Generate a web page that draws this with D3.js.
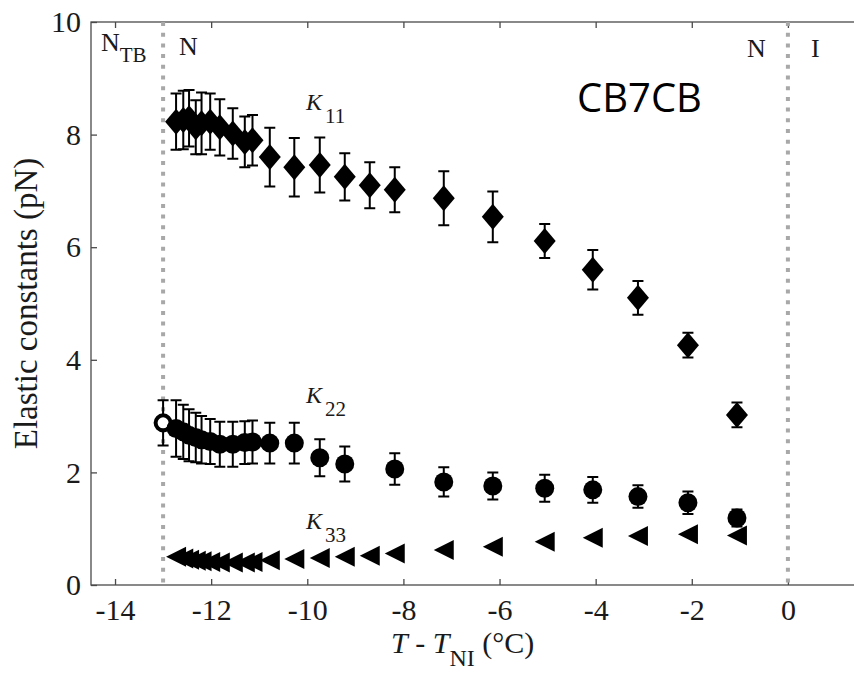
<!DOCTYPE html>
<html>
<head>
<meta charset="utf-8">
<script src="https://cdn.jsdelivr.net/npm/d3@7"></script>
<style>
  body { margin: 0; background: #fff; }
  svg { display: block; }
  text { font-family: "Liberation Serif", "DejaVu Serif", serif; fill: #1a1a1a; }
</style>
</head>
<body>
<div id="container"></div>
<script>
/* DATA */
const tTicks = [-14, -12, -10, -8, -6, -4, -2, 0];
const kTicks = [0, 2, 4, 6, 8, 10];
const phaseLines = [-13, 0];

const k11T = [-12.73, -12.58, -12.46, -12.32, -12.2, -12.02, -11.82, -11.55, -11.3, -11.14,
  -10.78, -10.27, -9.74, -9.22, -8.7, -8.18, -7.16, -6.14, -5.06, -4.06, -3.12, -2.08, -1.06];
const k11 = [8.23, 8.26, 8.29, 8.13, 8.2, 8.23, 8.13, 8.02, 7.87, 7.9,
  7.6, 7.42, 7.46, 7.25, 7.1, 7.02, 6.87, 6.54, 6.11, 5.6, 5.1, 4.26, 3.02];
const k11Err = [0.5, 0.52, 0.5, 0.48, 0.55, 0.5, 0.5, 0.45, 0.45, 0.45,
  0.52, 0.52, 0.49, 0.42, 0.41, 0.4, 0.48, 0.45, 0.3, 0.35, 0.3, 0.22, 0.22];

const k22T = [-13.0, -12.73, -12.58, -12.46, -12.32, -12.2, -12.02, -11.82, -11.55, -11.3, -11.14,
  -10.78, -10.27, -9.74, -9.22, -8.18, -7.16, -6.14, -5.06, -4.06, -3.12, -2.08, -1.06];
const k22 = [2.88, 2.78, 2.72, 2.66, 2.62, 2.58, 2.55, 2.5, 2.5, 2.53, 2.54,
  2.52, 2.52, 2.26, 2.15, 2.06, 1.83, 1.76, 1.72, 1.69, 1.57, 1.46, 1.19];
const k22Err = [0.4, 0.5, 0.48, 0.46, 0.44, 0.42, 0.4, 0.4, 0.4, 0.38, 0.38,
  0.36, 0.36, 0.33, 0.31, 0.28, 0.26, 0.24, 0.24, 0.23, 0.2, 0.2, 0.15];

const k33T = k11T;
const k33 = [0.5, 0.47, 0.45, 0.43, 0.42, 0.41, 0.4, 0.4, 0.4, 0.41,
  0.44, 0.46, 0.48, 0.5, 0.52, 0.56, 0.62, 0.68, 0.77, 0.84, 0.87, 0.9, 0.88];

/* CONSTANTS */
const width = 854;
const height = 682;
const margin = {top: 22, left: 91, bottom: 97, right: -6};

const svg = d3.select("#container")
  .append("svg")
  .attr("width", width)
  .attr("height", height);

/* SCALES */
const xScale = d3.scaleLinear()
  .domain([-14.5, 1.5])
  .range([margin.left, width - margin.right]);

const yScale = d3.scaleLinear()
  .domain([0, 10])
  .range([height - margin.bottom, margin.top]);

const axisColor = "#4a4a4a";

// box
svg.append("rect")
  .attr("x", xScale(-14.5))
  .attr("y", yScale(10))
  .attr("width", xScale(1.5) - xScale(-14.5))
  .attr("height", yScale(0) - yScale(10))
  .attr("fill", "none")
  .attr("stroke", axisColor)
  .attr("stroke-width", 1.3);

// axes (ticks point inward)
const xAxis = svg.append("g")
  .attr("transform", `translate(0,${yScale(0)})`)
  .call(d3.axisBottom(xScale).tickValues(tTicks).tickSize(-6).tickSizeOuter(0)
    .tickPadding(14).tickFormat(d => String(d)));

const xAxisTop = svg.append("g")
  .attr("transform", `translate(0,${yScale(10)})`)
  .call(d3.axisTop(xScale).tickValues(tTicks).tickSize(-6).tickSizeOuter(0).tickFormat(""));

const yAxis = svg.append("g")
  .attr("transform", `translate(${xScale(-14.5)},0)`)
  .call(d3.axisLeft(yScale).tickValues(kTicks).tickSize(-6).tickSizeOuter(0)
    .tickPadding(10).tickFormat(d => String(d)));

[xAxis, xAxisTop, yAxis].forEach(g => {
  g.attr("font-family", null).attr("font-size", null);
  g.select(".domain").remove();
  g.selectAll(".tick line").attr("stroke", axisColor).attr("stroke-width", 1.3);
  g.selectAll(".tick text")
    .attr("fill", "#1a1a1a")
    .style("font-family", "'Liberation Serif', serif")
    .style("font-size", "30px");
});

// phase boundaries
svg.selectAll("line.phase")
  .data(phaseLines)
  .join("line")
  .attr("class", "phase")
  .attr("x1", d => xScale(d))
  .attr("x2", d => xScale(d))
  .attr("y1", yScale(10))
  .attr("y2", yScale(0))
  .attr("stroke", "#a8a8a8")
  .attr("stroke-width", 4)
  .attr("stroke-dasharray", "4,6.7");

/* ERROR BARS */
function drawErrors(ts, vals, errs, cls) {
  const data = ts.map((t, i) => ({t: t, v: vals[i], e: errs[i]}));
  const g = svg.append("g").attr("class", cls);
  const cap = 5.5;
  g.selectAll("path")
    .data(data)
    .join("path")
    .attr("d", d => {
      const x = xScale(d.t), y1 = yScale(d.v + d.e), y2 = yScale(d.v - d.e);
      return `M${x},${y1}V${y2}M${x - cap},${y1}H${x + cap}M${x - cap},${y2}H${x + cap}`;
    })
    .attr("stroke", "#000")
    .attr("stroke-width", 2)
    .attr("fill", "none");
}

drawErrors(k11T, k11, k11Err, "err11");
drawErrors(k22T, k22, k22Err, "err22");

// diamonds
svg.selectAll("path.k11")
  .data(k11T.map((t, i) => ({t: t, v: k11[i]})))
  .join("path")
  .attr("class", "k11")
  .attr("transform", d => `translate(${xScale(d.t)},${yScale(d.v)})`)
  .attr("d", "M0,-13L11,0L0,13L-11,0Z")
  .attr("fill", "#000");

// circles (first one at -13 drawn open)
svg.selectAll("circle.k22")
  .data(k22T.map((t, i) => ({t: t, v: k22[i], i: i})))
  .join("circle")
  .attr("class", "k22")
  .attr("cx", d => xScale(d.t))
  .attr("cy", d => yScale(d.v))
  .attr("r", d => d.i === 0 ? 7.5 : 9.5)
  .attr("fill", d => d.i === 0 ? "#fff" : "#000")
  .attr("stroke", "#000")
  .attr("stroke-width", d => d.i === 0 ? 4 : 0);

// left triangles
svg.selectAll("path.k33")
  .data(k33T.map((t, i) => ({t: t, v: k33[i]})))
  .join("path")
  .attr("class", "k33")
  .attr("transform", d => `translate(${xScale(d.t)},${yScale(d.v)})`)
  .attr("d", "M-10,0L10,-10L10,10Z")
  .attr("fill", "#000");

/* LABELS */
function kLabel(x, y, sub) {
  const t = svg.append("text").attr("x", x).attr("y", y).style("font-size", "24px");
  t.append("tspan").style("font-style", "italic").text("K");
  t.append("tspan").attr("dy", 13).attr("dx", 3).style("font-size", "21px").text(sub);
}
kLabel(306, 110, "11");
kLabel(306, 403, "22");
kLabel(306, 529, "33");

// phase labels
const nTB = svg.append("text").attr("x", 101).attr("y", 51).style("font-size", "26px");
nTB.append("tspan").text("N");
nTB.append("tspan").attr("dy", 11).style("font-size", "21px").text("TB");

svg.append("text").attr("x", 179).attr("y", 55).style("font-size", "26px").text("N");
svg.append("text").attr("x", 747).attr("y", 57).style("font-size", "26px").text("N");
svg.append("text").attr("x", 811).attr("y", 57).style("font-size", "26px").text("I");

svg.append("text")
  .attr("x", 577)
  .attr("y", 112)
  .style("font-family", "'Open Sans', sans-serif")
  .style("font-size", "40px")
  .style("fill", "#000")
  .text("CB7CB");

// axis titles
svg.append("text")
  .attr("transform", `translate(37,${(yScale(0) + yScale(10)) / 2}) rotate(-90)`)
  .attr("text-anchor", "middle")
  .style("font-size", "33px")
  .text("Elastic constants (pN)");

const xt = svg.append("text").attr("x", 391).attr("y", 653).style("font-size", "30px");
xt.append("tspan").style("font-style", "italic").text("T");
xt.append("tspan").text(" -  ");
xt.append("tspan").style("font-style", "italic").text("T");
xt.append("tspan").attr("dy", 13).style("font-size", "24px").text("NI");
xt.append("tspan").attr("dy", -13).text(" (°C)");
</script>
</body>
</html>
